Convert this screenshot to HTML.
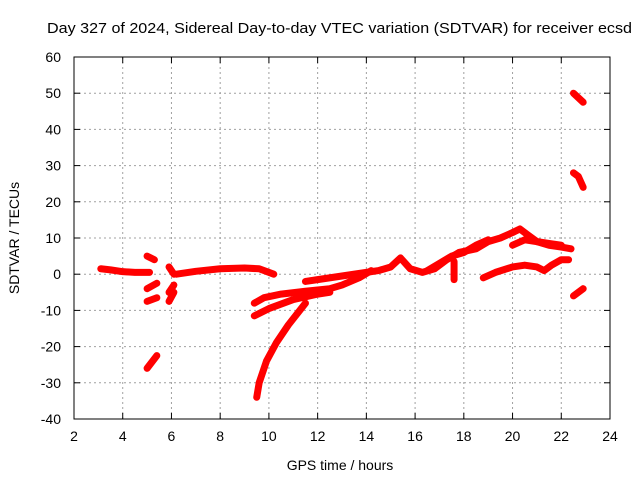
<!DOCTYPE html>
<html><head><meta charset="utf-8"><style>
body{margin:0;background:#fff}
svg{display:block;font-family:"Liberation Sans",sans-serif}
</style></head><body>
<svg id="c" width="640" height="480">
<rect width="640" height="480" fill="#fff"/>
<text x="47" y="33" font-size="15" textLength="585" lengthAdjust="spacingAndGlyphs">Day 327 of 2024, Sidereal Day-to-day VTEC variation (SDTVAR) for receiver ecsd</text>
<g id="grid"></g>
<g id="series"></g>
<rect x="74" y="57" width="536" height="362" fill="none" stroke="#000" stroke-width="1"/>
<g id="ticks"></g>
<text x="340" y="470" text-anchor="middle" font-size="14">GPS time / hours</text>
<text transform="translate(19,238) rotate(-90)" text-anchor="middle" font-size="14">SDTVAR / TECUs</text>
</svg>
<script>
const xTicks=[2,4,6,8,10,12,14,16,18,20,22,24];
const yTicks=[-40,-30,-20,-10,0,10,20,30,40,50,60];
const arcHours=[
[3.1,3.5,4,4.5,5.1],
[5.0,5.3],[5.0,5.4],[5.0,5.4],[5.0,5.4],
[5.9,6.1],[5.9,6.1],[5.9,6.1],
[6.2,7,8,9,9.6,10.2],
[9.4,9.8,10.5,11.5,12.5,13,13.7,14.2],
[9.4,10,11,12,12.5],
[9.5,9.6,9.9,10.3,10.8,11.5],
[11.5,12,13,14,14.5,15,15.4,15.8,16.3,16.8,17.3,17.8,18.5,19,19.5,20,20.3,20.6,21,21.5,22,22.4],
[16.5,17,17.5,18,18.5,19],
[20,20.5,21,21.5,22],
[18.8,19.3,20,20.5,21,21.3,21.6,22,22.3],
[22.5,22.9],[22.5,22.7,22.9],[22.5,22.9],[17.6,17.6]
];
const arcValues=[
[1.5,1.2,0.7,0.5,0.5],
[5,4],[-4,-2.5],[-7.5,-6.5],[-26,-22.5],
[2,0],[-5,-3],[-7.5,-5],
[0,0.8,1.5,1.7,1.5,0],
[-8,-6.5,-5.5,-4.7,-4,-3,-1,1],
[-11.5,-9.5,-7,-5.5,-5],
[-34,-30,-24,-19,-14,-8],
[-2,-1.5,-0.5,0.5,1,2,4.5,1.5,0.5,1.5,4,6,7,9,10,11.5,12.5,11,9,8,7.5,7],
[1,3,5,6,8,9.5],
[8,9.5,9,8.5,8],
[-1,0.5,2,2.5,2,1,2.5,4,4],
[-6,-4],[28,27,24],[50,47.5],[3.5,-1.5]
];
const X=h=>74+(h-2)*536/22, Y=v=>419-(v+40)*3.62;
const ns="http://www.w3.org/2000/svg";
const grid=document.getElementById('grid'),ticks=document.getElementById('ticks'),ser=document.getElementById('series');
function mk(tag,at,parent){const e=document.createElementNS(ns,tag);for(const k in at)e.setAttribute(k,at[k]);parent.appendChild(e);return e;}
xTicks.forEach(t=>{
 const x=X(t);
 if(t>2&&t<24){const g=mk('line',{x1:x,x2:x,y1:57,y2:419,stroke:'#a0a0a0','stroke-dasharray':'2,3'},grid);
 
 }
 mk('line',{x1:x,x2:x,y1:419,y2:413,stroke:'#000'},ticks);
 mk('line',{x1:x,x2:x,y1:57,y2:63,stroke:'#000'},ticks);
 const l=mk('text',{x:x,y:441,'text-anchor':'middle','font-size':'14'},ticks);l.textContent=t;
 
 
});
yTicks.forEach(t=>{
 const y=Y(t);
 if(t>-40&&t<60){const g=mk('line',{x1:74,x2:610,y1:y,y2:y,stroke:'#a0a0a0','stroke-dasharray':'2,3'},grid);
 
 }
 mk('line',{x1:74,x2:80,y1:y,y2:y,stroke:'#000'},ticks);
 mk('line',{x1:604,x2:610,y1:y,y2:y,stroke:'#000'},ticks);
 const l=mk('text',{x:61,y:y+5,'text-anchor':'end','font-size':'14'},ticks);l.textContent=t;
 
 
});
arcHours.forEach((hs,i)=>{
 const pts=hs.map((h,j)=>X(h)+','+Y(arcValues[i][j])).join(' ');
 const p=mk('polyline',{points:pts,fill:'none',stroke:'#f00','stroke-width':7,'stroke-linejoin':'round','stroke-linecap':'round'},ser);
 
 
});
</script>
</body></html>
